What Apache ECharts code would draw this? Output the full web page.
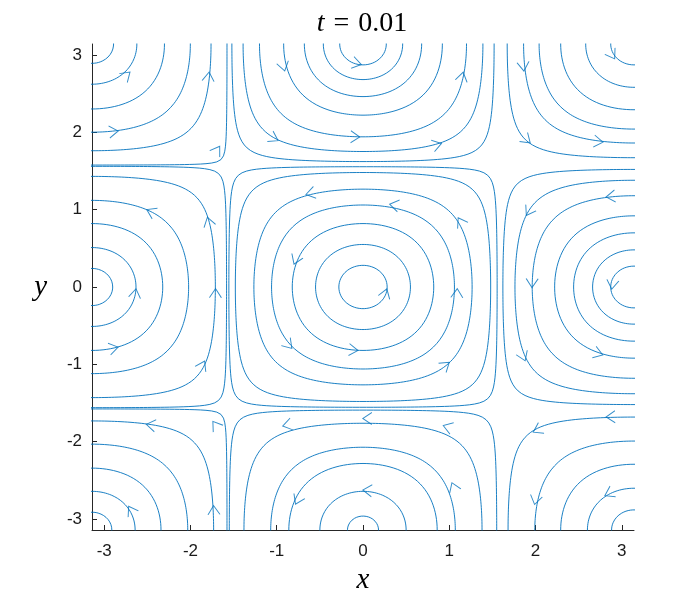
<!DOCTYPE html>
<html>
<head>
<meta charset="utf-8">
<script src="https://cdn.jsdelivr.net/npm/echarts@6/dist/echarts.min.js"></script>
<style>
  html, body { margin: 0; padding: 0; background: #fff; }
  #chart { width: 700px; height: 600px; }
</style>
</head>
<body>
<div id="chart"></div>
<script>
// tick labels
const xTicks = [-3, -2, -1, 0, 1, 2, 3];
const yTicks = [-3, -2, -1, 0, 1, 2, 3];

// cell centres of the vortex pattern
const cellX = [0, -Math.PI, Math.PI, 0, 0, -Math.PI, -Math.PI, Math.PI, Math.PI];
const cellY = [0, 0, 0, Math.PI, -Math.PI, Math.PI, -Math.PI, Math.PI, -Math.PI];
// for each cell: distance from the centre where each streamline crosses the axis
const centreLevels = [0.28, 0.55, 0.82, 1.06, 1.265, 1.48, 1.555];
const leftLevels = [0.24, 0.51, 0.82, 1.12, 1.43, 1.56];
const rightLevels = [0.27, 0.48, 0.70, 0.92, 1.18, 1.38, 1.52];
const topLevels = [0.27, 0.46, 0.68, 0.92, 1.20, 1.39, 1.52];
const bottomLevels = [0.18, 0.50, 0.86, 1.07, 1.38, 1.55];
const topLeftLevels = [0.25, 0.52, 0.84, 1.14, 1.38, 1.565];
const bottomLeftLevels = [0.23, 0.50, 0.80, 1.11, 1.41, 1.565];
const topRightLevels = [0.27, 0.56, 0.85, 1.10, 1.28, 1.47];
const bottomRightLevels = [0.26, 0.54, 0.85, 1.15, 1.46];
const cellLevels = [centreLevels, leftLevels, rightLevels, topLevels, bottomLevels,
  topLeftLevels, bottomLeftLevels, topRightLevels, bottomRightLevels];

// arrow heads (positions)
const arrowX = [-2.74, -1.79, -2.89, -1.69, -0.92, -0.07, -1.03, -0.09, -0.61, -2.46, -1.79, -0.78,
  1.15, 1.86, 2.89, 0.86, 1.90, 2.73, 0.36, 1.13, 2.87, 1.92,
  -2.64, -1.71, -2.89, -1.86, -0.86, -0.11, -2.46, -1.71, -0.88, 0.05, -2.69, -1.73, -0.76, 0.05,
  0.26, 1.09, 1.96, 2.89, 0.96, 1.86, 2.73, 0.98, 2.02, 2.87, 1.05, 2.0, 2.85];
const arrowY = [2.74, 2.72, 2.01, 1.77, 2.85, 2.89, 1.92, 1.94, 1.21, 0.975, 0.845, 0.35,
  2.72, 2.85, 3.0, 1.84, 1.90, 1.88, 1.06, 0.845, 1.17, 0.975,
  -0.08, -0.08, -0.79, -1.01, -0.75, -0.815, -1.785, -1.785, -1.785, -1.70, -2.885, -2.885, -2.755, -2.63,
  -0.08, -0.08, 0.05, 0.03, -1.01, -0.90, -0.86, -1.81, -1.85, -1.68, -2.585, -2.755, -2.67];

const blue = '#0072BD';

// flow direction of the cellular field, all cells turning anticlockwise
function flow(x, y) {
  const cx = Math.cos(x), cy = Math.cos(y);
  return [-Math.sin(2 * y) * cx * cx, Math.sin(2 * x) * cy * cy];
}

// closed streamline of a cell: |cos a cos b| = cos(r)
function loop(x0, y0, r) {
  const level = Math.cos(r);
  const pts = [];
  const n = 240;
  for (let i = 0; i <= n; i++) {
    const t = (i / n) * 2 * Math.PI;
    const ct = Math.cos(t), st = Math.sin(t);
    let lo = 0, hi = (Math.PI / 2) / Math.max(Math.abs(ct), Math.abs(st));
    for (let k = 0; k < 40; k++) {
      const mid = (lo + hi) / 2;
      if (Math.cos(mid * ct) * Math.cos(mid * st) > level) lo = mid; else hi = mid;
    }
    const rho = (lo + hi) / 2;
    pts.push([x0 + rho * ct, y0 + rho * st]);
  }
  return pts;
}

const series = [];
for (let c = 0; c < cellX.length; c++) {
  cellLevels[c].forEach(function (r) {
    series.push({
      type: 'line',
      data: loop(cellX[c], cellY[c], r),
      showSymbol: false,
      silent: true,
      clip: true,
      lineStyle: { color: blue, width: 0.9 }
    });
  });
}

const axisFont = { fontFamily: 'Liberation Sans', fontSize: 17, color: '#1a1a1a' };
const nameFont = { fontFamily: 'Liberation Serif', fontStyle: 'italic', fontSize: 29, color: '#000' };

const chart = echarts.init(document.getElementById('chart'));
const option = {
  animation: false,
  backgroundColor: '#fff',
  title: {
    text: '{i|t}{e|=}{n|0.01}',
    left: 357,
    top: 5,
    textAlign: 'center',
    textStyle: {
      fontFamily: 'Liberation Serif',
      fontSize: 28,
      fontWeight: 'normal',
      color: '#000',
      rich: {
        i: { fontFamily: 'Liberation Serif', fontStyle: 'italic', fontSize: 28, color: '#000' },
        e: { fontFamily: 'Liberation Serif', fontSize: 28, color: '#000', padding: [0, 9] },
        n: { fontFamily: 'Liberation Serif', fontSize: 28, color: '#000' }
      }
    }
  },
  grid: { left: 92, right: 66, top: 44, bottom: 70, containLabel: false },
  xAxis: {
    type: 'value',
    min: -Math.PI,
    max: Math.PI,
    name: 'x',
    nameLocation: 'middle',
    nameGap: 36,
    nameTextStyle: nameFont,
    axisLine: { show: true, onZero: false, lineStyle: { color: '#262626', width: 1 } },
    axisTick: { show: true, inside: true, length: 5, customValues: xTicks, lineStyle: { color: '#262626' } },
    axisLabel: Object.assign({ customValues: xTicks, margin: 13 }, axisFont),
    splitLine: { show: false }
  },
  yAxis: {
    type: 'value',
    min: -Math.PI,
    max: Math.PI,
    name: 'y',
    nameLocation: 'middle',
    nameRotate: 0,
    nameGap: 45,
    nameTextStyle: nameFont,
    axisLine: { show: true, onZero: false, lineStyle: { color: '#262626', width: 1 } },
    axisTick: { show: true, inside: true, length: 5, customValues: yTicks, lineStyle: { color: '#262626' } },
    axisLabel: Object.assign({ customValues: yTicks, margin: 10 }, axisFont),
    splitLine: { show: false }
  },
  series: series
};
chart.setOption(option);

// arrow heads, turned along the local flow
const arrowData = arrowX.map(function (x, i) {
  const y = arrowY[i];
  const d = flow(x, y);
  const len = Math.hypot(d[0], d[1]) || 1;
  const p0 = chart.convertToPixel({ gridIndex: 0 }, [x, y]);
  const p1 = chart.convertToPixel({ gridIndex: 0 }, [x + 0.01 * d[0] / len, y + 0.01 * d[1] / len]);
  const ang = Math.atan2(-(p1[1] - p0[1]), p1[0] - p0[0]) * 180 / Math.PI;
  return { value: [x, y], symbolRotate: ang };
});
series.push({
  type: 'scatter',
  data: arrowData,
  symbol: 'path://M0,0L9,6L0,12',
  symbolSize: [9, 12],
  silent: true,
  itemStyle: { color: 'rgba(0,0,0,0)', borderColor: blue, borderWidth: 0.9 },
  z: 3
});
chart.setOption({ series: series });
</script>
</body>
</html>
